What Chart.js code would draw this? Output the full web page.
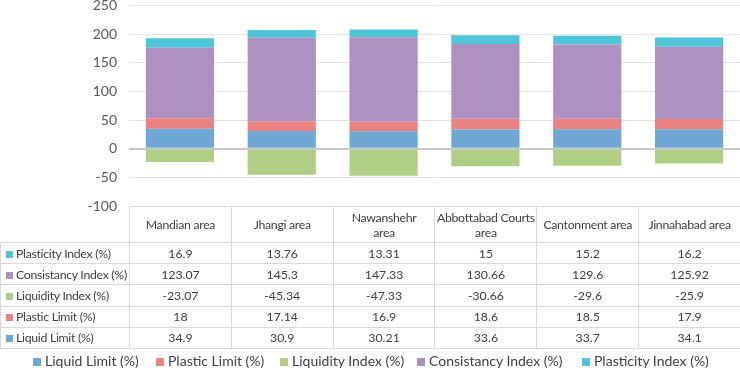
<!DOCTYPE html>
<html><head><meta charset="utf-8">
<script src="https://cdn.jsdelivr.net/npm/chart.js@4"></script>
<style>
body{margin:0;background:#fff;font-family:Lato,"Open Sans",sans-serif;}
#wrap{position:relative;width:740px;height:377px;overflow:hidden;}
#c{position:absolute;left:0;top:-15px;}
#tbl{position:absolute;border-collapse:collapse;table-layout:fixed;font-size:12.3px;color:#404040;}
#tbl td{border:1px solid #d9d9d9;text-align:center;padding:0;line-height:15px;white-space:nowrap;overflow:hidden;}
#tbl td.hd{letter-spacing:-0.3px;}
#tbl td.lab{text-align:left;padding-left:5px;letter-spacing:-0.3px;}
#tbl td.corner{border-top:none;border-left:none;}
.sq{display:inline-block;width:7px;height:7px;margin-right:3px;vertical-align:0px;}
#legend{position:absolute;top:352px;left:0;width:740px;font-size:14px;color:#404040;}
#legend span.it{position:absolute;white-space:nowrap;}
#legend .sq{width:8px;height:8px;margin-right:4px;}
</style></head>
<body><div id="wrap"><canvas id="c" width="740" height="392"></canvas><table id="tbl"></table><div id="legend"></div></div>
<script>
const categories = ["Mandian area","Jhangi area","Nawanshehr area","Abbottabad Courts area","Cantonment area","Jinnahabad area"];
const headerLines = [["Mandian area"],["Jhangi area"],["Nawanshehr","area"],["Abbottabad Courts","area"],["Cantonment area"],["Jinnahabad area"]];
const liquidLimit = [34.9,30.9,30.21,33.6,33.7,34.1];
const plasticLimit = [18,17.14,16.9,18.6,18.5,17.9];
const liquidityIndex = [-23.07,-45.34,-47.33,-30.66,-29.6,-25.9];
const consistancyIndex = [123.07,145.3,147.33,130.66,129.6,125.92];
const plasticityIndex = [16.9,13.76,13.31,15,15.2,16.2];
const seriesNames = ["Liquid Limit (%)","Plastic Limit (%)","Liquidity Index (%)","Consistancy Index (%)","Plasticity Index (%)"];
const yTicks = [250,200,150,100,50,0,-50,-100];
const colors = ["#6fa7d5","#eb8282","#b0cf86","#ad91c0","#50c5d8"];
const seriesData = [liquidLimit,plasticLimit,liquidityIndex,consistancyIndex,plasticityIndex];

const FONT = 'Lato, "Open Sans", sans-serif';
const SHIFT = 15;
const datasets = seriesNames.map((n,i)=>({label:n,data:seriesData[i],backgroundColor:colors[i],borderWidth:0,barPercentage:0.67,categoryPercentage:1}));

const tablePlugin = {
  id:'tbl',
  afterRender(chart){
    if (chart._tblDone) return; chart._tblDone = true;
    const ca = chart.chartArea;
    const tbl = document.getElementById('tbl');
    const colW = (ca.right - ca.left)/categories.length;
    const top = Math.round(ca.bottom) - SHIFT;
    tbl.style.left = '0px'; tbl.style.top = top+'px';
    tbl.style.width = ca.right+'px';
    const rowH = (348 - top - 36)/seriesNames.length;
    let html = '<colgroup><col style="width:'+ca.left+'px">';
    categories.forEach(()=>{html+='<col style="width:'+colW+'px">';});
    html += '</colgroup><tr style="height:36px"><td class="corner"></td>';
    headerLines.forEach(l=>{html+='<td class="hd">'+l.join('<br>')+'</td>';});
    html += '</tr>';
    for (let r=seriesNames.length-1;r>=0;r--){
      html += '<tr style="height:'+rowH+'px"><td class="lab"><span class="sq" style="background:'+colors[r]+'"></span>'+seriesNames[r]+'</td>';
      seriesData[r].forEach(v=>{html+='<td>'+v+'</td>';});
      html += '</tr>';
    }
    tbl.innerHTML = html;
    const lg = document.getElementById('legend');
    const lx = [33,156,280,417,582];
    lg.innerHTML = seriesNames.map((n,i)=>'<span class="it" style="left:'+lx[i]+'px"><span class="sq" style="background:'+colors[i]+'"></span>'+n+'</span>').join('');
  }
};

new Chart(document.getElementById('c'),{
  type:'bar',
  data:{labels:categories,datasets},
  options:{
    responsive:false,animation:false,
    layout:{padding:{top:5,bottom:163,right:0,left:0}},
    plugins:{legend:{display:false},tooltip:{enabled:false}},
    scales:{
      x:{stacked:true,grid:{display:false},border:{display:false},ticks:{display:false}},
      y:{stacked:true,min:-100,max:250,
        afterBuildTicks(s){s.ticks=yTicks.map(v=>({value:v}));},
        afterFit(s){s.width=129;},
        border:{display:false},
        grid:{color:c=>c.tick&&c.tick.value===0?'#c8c8c8':'#e4e4e4',lineWidth:c=>c.tick&&c.tick.value===0?2:1,drawTicks:false},
        ticks:{font:{family:FONT,size:14},color:'#595959',padding:12}
      }
    }
  },
  plugins:[tablePlugin]
});
</script></body></html>
